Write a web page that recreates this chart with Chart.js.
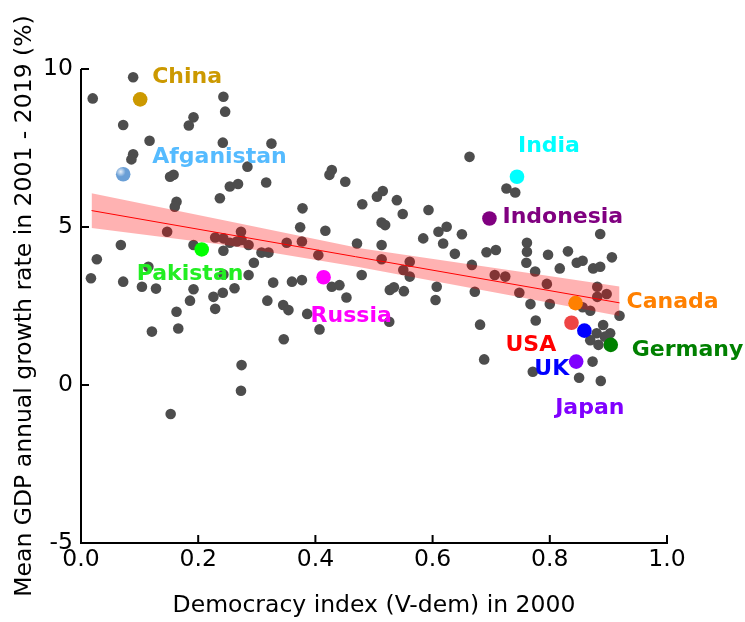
<!DOCTYPE html>
<html><head><meta charset="utf-8">
<script src="https://cdn.jsdelivr.net/npm/chart.js@4.4.1/dist/chart.umd.min.js"></script>
<style>html,body{margin:0;padding:0;background:#fff;}#wrap{width:745px;height:622px;}</style>
</head><body><div id="wrap"><canvas id="c" width="745" height="622"></canvas></div>
<script>
// ---------------- DATA ----------------
const xGray = [0.020,0.089,0.072,0.117,0.089,0.086,0.152,0.158,0.163,0.160,0.147,0.068,0.027,0.017,0.072,0.104,0.128,0.115,0.192,0.192,0.186,0.163,0.166,0.121,0.153,0.192,0.184,
0.243,0.246,0.242,0.254,0.268,0.237,0.284,0.229,0.243,0.254,0.266,0.273,0.274,0.286,0.243,0.243,0.226,0.242,0.262,0.229,0.274,0.273,0.295,0.286,
0.316,0.325,0.308,0.320,0.351,0.377,0.374,0.378,0.328,0.360,0.377,0.318,0.345,0.354,0.386,0.346,
0.428,0.424,0.451,0.480,0.417,0.405,0.471,0.428,0.441,0.479,0.453,0.407,
0.505,0.515,0.513,0.519,0.539,0.549,0.593,0.584,0.513,0.513,0.561,0.550,0.561,0.527,0.534,0.551,0.526,
0.610,0.624,0.650,0.618,0.638,0.663,0.692,0.708,0.667,0.607,0.605,0.672,0.681,0.688,
0.726,0.741,0.706,0.724,0.761,0.761,0.760,0.775,0.797,0.748,0.795,0.767,0.776,0.771,0.800,
0.831,0.846,0.856,0.874,0.886,0.906,0.817,0.886,0.881,0.897,0.881,0.856,0.869,0.919,0.891,0.903,0.894,0.880,0.869,0.883,0.873,0.850,0.887];
const yGray = [9.07,9.74,8.23,7.73,7.30,7.14,6.59,6.65,5.80,5.64,4.85,4.43,3.98,3.38,3.27,3.11,3.05,3.74,4.43,3.03,2.67,2.32,1.79,1.69,-0.92,8.47,8.21,
9.12,8.65,7.67,6.28,6.36,5.91,6.91,4.67,4.64,4.50,4.54,4.85,4.59,4.43,4.25,3.50,2.79,2.92,3.06,2.41,0.63,-0.18,3.87,3.48,
6.41,7.64,4.19,4.19,4.50,4.54,4.99,5.59,3.24,3.27,3.32,2.67,2.53,2.37,2.25,1.45,
6.80,6.65,6.43,5.72,4.88,4.11,4.48,3.11,3.16,3.48,2.77,1.76,
5.96,6.14,5.14,5.06,5.85,5.41,5.54,4.64,4.43,3.98,3.90,3.64,3.43,3.01,3.09,2.97,2.00,
4.85,5.01,4.77,4.48,4.15,7.22,4.20,4.27,3.80,3.11,2.69,2.95,1.91,0.81,
6.22,6.09,3.48,3.43,4.50,4.22,3.87,3.59,4.12,2.92,3.20,2.56,2.04,0.42,2.56,
4.23,3.87,3.93,3.69,3.74,4.04,3.69,4.78,3.11,2.88,2.79,2.46,2.35,2.19,1.90,1.64,1.53,1.64,1.42,1.27,0.74,0.23,0.13];

const countries = ["China","Afganistan","India","Indonesia","Pakistan","Russia","Canada","USA","UK","Germany","Japan"];
const xCountry  = [0.101,0.072,0.744,0.697,0.206,0.414,0.844,0.837,0.859,0.904,0.845];
const yCountry  = [9.04,6.67,6.59,5.27,4.29,3.41,2.59,1.97,1.72,1.27,0.74];

const fitX = [0.018, 0.919];
const fitY = [5.52, 2.60];
const bandX     = [0.018, 0.25, 0.476, 0.75, 0.919];
const bandUpper = [6.07, 5.19, 4.33, 3.58, 3.12];
const bandLower = [4.97, 4.42, 3.73, 2.78, 2.18];

const xTickValues = [0, 0.2, 0.4, 0.6, 0.8, 1.0];
const xTickLabels = ["0.0","0.2","0.4","0.6","0.8","1.0"];
const yTickValues = [-5, 0, 5, 10];
const yTickLabels = ["-5","0","5","10"];
const xTitle = "Democracy index (V-dem) in 2000";
const yTitle = "Mean GDP annual growth rate in 2001 - 2019 (%)";

// ---------------- STYLE ----------------
const FONT = "'DejaVu Sans', Verdana, sans-serif";
const dotColors   = ["#cc9900","#6a9fd6","#00ffff","#800080","#00ff00","#ff00ff","#ff8000","#ee4444","#0000ff","#008000","#8000ff"];
const labelColors = ["#cc9900","#55bbff","#00ffff","#800080","#22ee22","#ff00ff","#ff8000","#ff0000","#0000ff","#008000","#8000ff"];
const labelDx = [12, 29, 1, 13, -65, -13, 51, -66, -50, 21, -21];
const labelDy = [-16, -11, -25, 5, 31, 45, 5, 28, 44, 11, 52];
const shinyIndex = 1; // the Afganistan marker has a glossy highlight

const toPts = (xs, ys) => xs.map((x, i) => ({x: x, y: ys[i]}));

const axesPlugin = {
  id: 'inwardAxes',
  afterDatasetsDraw(chart) {
    const ctx = chart.ctx, xs = chart.scales.x, ys = chart.scales.y;
    const a = chart.chartArea;
    ctx.save();
    // glossy highlight on one marker
    const meta = chart.getDatasetMeta(0);
    const sp = meta.data[shinyIndex];
    if (sp) {
      const g = ctx.createRadialGradient(sp.x - 2.5, sp.y - 2.5, 0, sp.x - 2.5, sp.y - 2.5, 5);
      g.addColorStop(0, 'rgba(255,255,255,0.85)');
      g.addColorStop(1, 'rgba(255,255,255,0)');
      ctx.fillStyle = g;
      ctx.beginPath(); ctx.arc(sp.x, sp.y, 7.3, 0, Math.PI * 2); ctx.fill();
    }
    ctx.strokeStyle = '#000'; ctx.lineWidth = 2; ctx.lineCap = 'butt';
    ctx.beginPath();
    ctx.moveTo(a.left, ys.getPixelForValue(10)); ctx.lineTo(a.left, a.bottom);
    ctx.moveTo(a.left - 1, a.bottom); ctx.lineTo(xs.getPixelForValue(1.0) + 1, a.bottom);
    yTickValues.forEach(v => { const p = ys.getPixelForValue(v); ctx.moveTo(a.left, p); ctx.lineTo(a.left + 8, p); });
    xTickValues.forEach(v => { const p = xs.getPixelForValue(v); ctx.moveTo(p, a.bottom); ctx.lineTo(p, a.bottom - 8); });
    ctx.stroke();
    // country labels
    ctx.font = "bold 22px " + FONT;
    ctx.textAlign = 'left'; ctx.textBaseline = 'alphabetic';
    meta.data.forEach((pt, i) => {
      ctx.fillStyle = labelColors[i];
      ctx.fillText(countries[i], pt.x + labelDx[i], pt.y + labelDy[i]);
    });
    ctx.restore();
  }
};

new Chart(document.getElementById('c'), {
  type: 'scatter',
  data: {
    datasets: [
      { data: toPts(xCountry, yCountry), pointRadius: 7.3, pointHoverRadius: 7.3, pointBackgroundColor: dotColors, pointBorderWidth: 0, order: 0, clip: false },
      { type: 'line', data: toPts(fitX, fitY), borderColor: '#ff0000', borderWidth: 1, pointRadius: 0, fill: false, tension: 0, order: 1 },
      { type: 'line', data: toPts(bandX, bandUpper), borderWidth: 0, borderColor: 'rgba(0,0,0,0)', pointRadius: 0, fill: false, tension: 0, order: 2 },
      { type: 'line', data: toPts(bandX, bandLower), borderWidth: 0, borderColor: 'rgba(0,0,0,0)', pointRadius: 0, fill: '-1', backgroundColor: 'rgba(255,0,0,0.3)', tension: 0, order: 2 },
      { data: toPts(xGray, yGray), pointRadius: 5.3, pointHoverRadius: 5.3, pointBackgroundColor: '#4d4d4d', pointBorderWidth: 0, order: 3, clip: false }
    ]
  },
  options: {
    responsive: false, animation: false, devicePixelRatio: 1,
    events: [],
    layout: { padding: { left: 0, right: 78, top: 69, bottom: 0 } },
    plugins: { legend: { display: false }, tooltip: { enabled: false } },
    scales: {
      x: {
        type: 'linear', min: 0, max: 1,
        grid: { display: false, drawTicks: false }, border: { display: false },
        afterBuildTicks: s => { s.ticks = xTickValues.map(v => ({value: v})); },
        ticks: { padding: 3, color: '#000', font: { family: FONT, size: 23.5 }, maxRotation: 0, autoSkip: false,
                 callback: (v, i) => xTickLabels[i] },
        title: { display: true, text: xTitle, color: '#000', font: { family: FONT, size: 23.5, lineHeight: 1.2 }, padding: { top: 0, bottom: 2 } },
        afterFit: s => { s.height = 79; }
      },
      y: {
        type: 'linear', min: -5, max: 10,
        grid: { display: false, drawTicks: false }, border: { display: false },
        afterBuildTicks: s => { s.ticks = yTickValues.map(v => ({value: v})); },
        ticks: { padding: 8, color: '#000', font: { family: FONT, size: 23.5 }, callback: (v, i) => yTickLabels[i] },
        title: { display: true, text: yTitle, color: '#000', font: { family: FONT, size: 23.5, lineHeight: 1.2 }, padding: { top: 11, bottom: 0 } },
        afterFit: s => { s.width = 81; }
      }
    }
  },
  plugins: [axesPlugin]
});
</script></body></html>
